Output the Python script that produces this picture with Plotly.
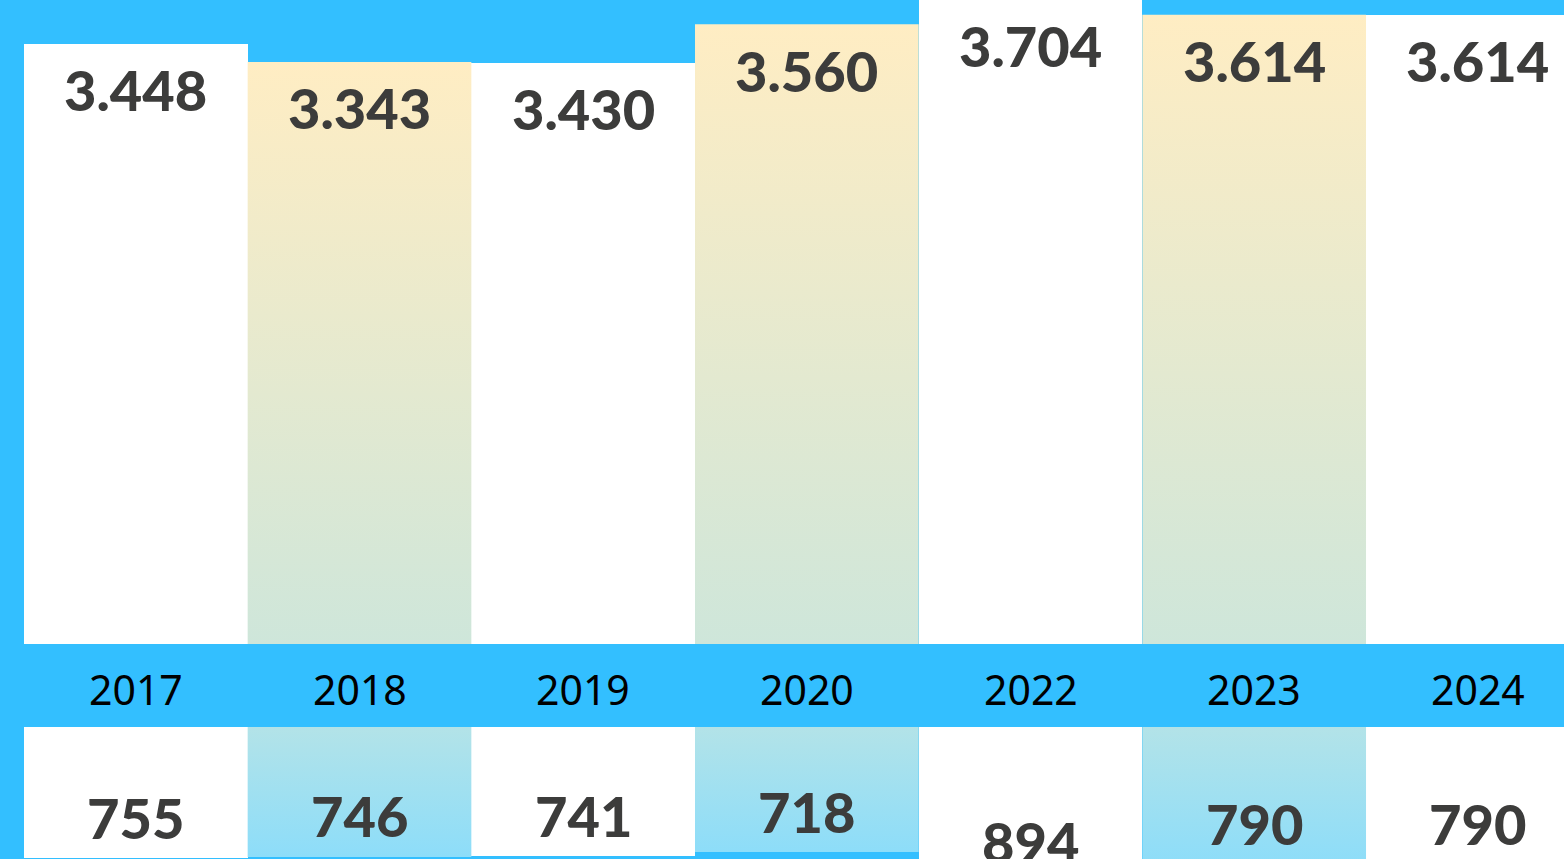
import plotly.graph_objects as go
from plotly.subplots import make_subplots

years = ["2017", "2018", "2019", "2020", "2022", "2023", "2024"]
top_labels = ["3.448", "3.343", "3.430", "3.560", "3.704", "3.614", "3.614"]
top_values = [3448, 3343, 3340, 3560, 3704, 3614, 3614]   # bar heights as drawn
bottom_labels = ["755", "746", "741", "718", "894", "790", "790"]
bottom_values = [755, 746, 741, 718, 894, 790, 790]
shaded = [False, True, False, True, False, True, False]

BG = "#33BFFF"
TOP_GRAD = [[0, "#CEE6DA"], [1, "#FFEDC3"]]
BOT_GRAD = [[0, "#B3E3E8"], [1, "#8DDDF9"]]
LABEL_COLOR = "#3C3C3B"
K = 0.1741  # px per unit
BW = 223.67  # px per category
LABEL_FONT = dict(family="Lato", size=56, color=LABEL_COLOR, weight=900)

fig = make_subplots(rows=2, cols=1, vertical_spacing=0)

idx = list(range(len(years)))
plain = [i for i in idx if not shaded[i]]
fig.add_trace(go.Bar(x=plain, y=[top_values[i] for i in plain], width=1,
                     marker=dict(color="white", line=dict(width=0)),
                     hoverinfo="skip", showlegend=False), row=1, col=1)
fig.add_trace(go.Bar(x=plain, y=[bottom_values[i] for i in plain], width=1,
                     marker=dict(color="white", line=dict(width=0)),
                     hoverinfo="skip", showlegend=False), row=2, col=1)

for i in idx:
    x0, x1 = i - 0.5, i + 0.5
    h = top_values[i]
    b = bottom_values[i]
    if shaded[i]:
        fig.add_trace(go.Scatter(x=[x0, x0, x1, x1, x0], y=[0, h, h, 0, 0], mode="lines",
                                 line=dict(width=0), fill="toself", hoverinfo="skip",
                                 showlegend=False,
                                 fillgradient=dict(type="vertical", colorscale=TOP_GRAD,
                                                   start=0, stop=h)), row=1, col=1)
        fig.add_trace(go.Scatter(x=[x0, x0, x1, x1, x0], y=[0, b, b, 0, 0], mode="lines",
                                 line=dict(width=0), fill="toself", hoverinfo="skip",
                                 showlegend=False,
                                 fillgradient=dict(type="vertical", colorscale=BOT_GRAD,
                                                   start=0, stop=b)), row=2, col=1)

    fig.add_annotation(x=i, y=h - 46 / K, xref="x", yref="y", text=top_labels[i],
                       showarrow=False, yanchor="middle", font=LABEL_FONT)
    fig.add_annotation(x=i, y=b - 41 / K, xref="x2", yref="y2", text=bottom_labels[i],
                       showarrow=False, yanchor="middle", font=LABEL_FONT)
    fig.add_annotation(x=i, y=1 - 689 / 859, xref="x", yref="paper", text=years[i],
                       showarrow=False, yanchor="middle",
                       font=dict(family="Noto Sans", size=41, color="black"))

fig.update_xaxes(range=[-0.5 - 24 / BW, -0.5 + 1540 / BW], visible=False, fixedrange=True)
fig.update_yaxes(visible=False, fixedrange=True)
fig.update_layout(
    width=1564, height=859, margin=dict(l=0, r=0, t=0, b=0),
    paper_bgcolor=BG, plot_bgcolor=BG, bargap=0,
    yaxis=dict(domain=[1 - 644 / 859, 1], range=[0, 644 / K]),
    yaxis2=dict(domain=[0, 1 - 727 / 859], range=[132 / K, 0]),
)

fig.write_html("out.html", config={"displayModeBar": False, "staticPlot": True},
               post_script="document.body.style.margin='0';document.body.style.overflow='hidden';")
